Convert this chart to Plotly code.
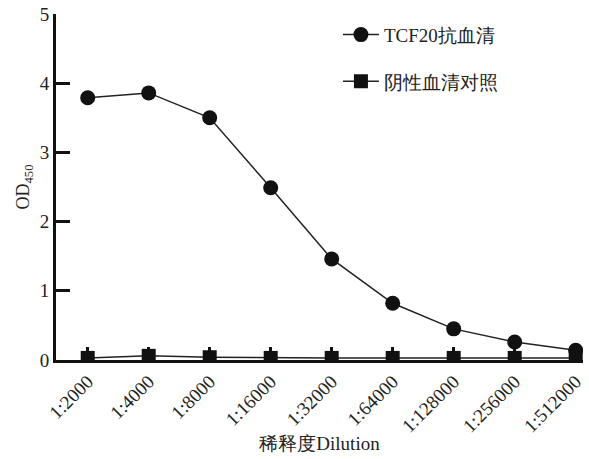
import plotly.graph_objects as go

# Dilution series and OD450 readings
dilutions = ["1:2000", "1:4000", "1:8000", "1:16000", "1:32000",
             "1:64000", "1:128000", "1:256000", "1:512000"]
tcf20_od = [3.79, 3.86, 3.50, 2.49, 1.46, 0.82, 0.45, 0.26, 0.14]
negative_od = [0.03, 0.06, 0.04, 0.03, 0.03, 0.03, 0.03, 0.03, 0.03]

serif = "Liberation Serif, Times New Roman, serif"

fig = go.Figure()
fig.add_trace(go.Scatter(
    x=dilutions, y=tcf20_od, name="TCF20抗血清", legendgroup="a",
    mode="lines+markers",
    line=dict(color="#222222", width=1.5),
    marker=dict(symbol="circle", size=15, color="#111111"),
    cliponaxis=True,
))
fig.add_trace(go.Scatter(
    x=dilutions, y=negative_od, name="阴性血清对照", legendgroup="b",
    mode="lines+markers",
    line=dict(color="#222222", width=1.5),
    marker=dict(symbol="square", size=14, color="#111111"),
    cliponaxis=True,
))

fig.update_layout(
    width=589, height=459,
    margin=dict(l=56, r=4, t=14, b=99),
    paper_bgcolor="white", plot_bgcolor="white",
    font=dict(family=serif, size=17, color="#222222"),
    showlegend=True,
    legend=dict(
        x=0.535, y=0.995, xanchor="left", yanchor="top",
        bgcolor="rgba(0,0,0,0)", font=dict(size=19, family=serif),
        tracegroupgap=19, itemwidth=36,
    ),
    xaxis=dict(
        type="category", range=[-0.52, 8.12],
        showline=True, linecolor="#111111", linewidth=3,
        ticks="inside", ticklen=13, tickwidth=3, tickcolor="#111111",
        tickangle=-45, tickfont=dict(size=19, family=serif),
        showgrid=False, zeroline=False,
        title=dict(text="稀释度Dilution", font=dict(size=19, family=serif), standoff=2),
    ),
    yaxis=dict(
        range=[0, 5], tickvals=[0, 1, 2, 3, 4, 5],
        showline=True, linecolor="#111111", linewidth=3,
        ticks="inside", ticklen=14, tickwidth=3, tickcolor="#111111",
        tickfont=dict(size=19, family=serif),
        showgrid=False, zeroline=False,
        title=dict(text="OD<sub>450</sub>", font=dict(size=18, family=serif), standoff=6),
    ),
)

fig.write_html("out.html")
